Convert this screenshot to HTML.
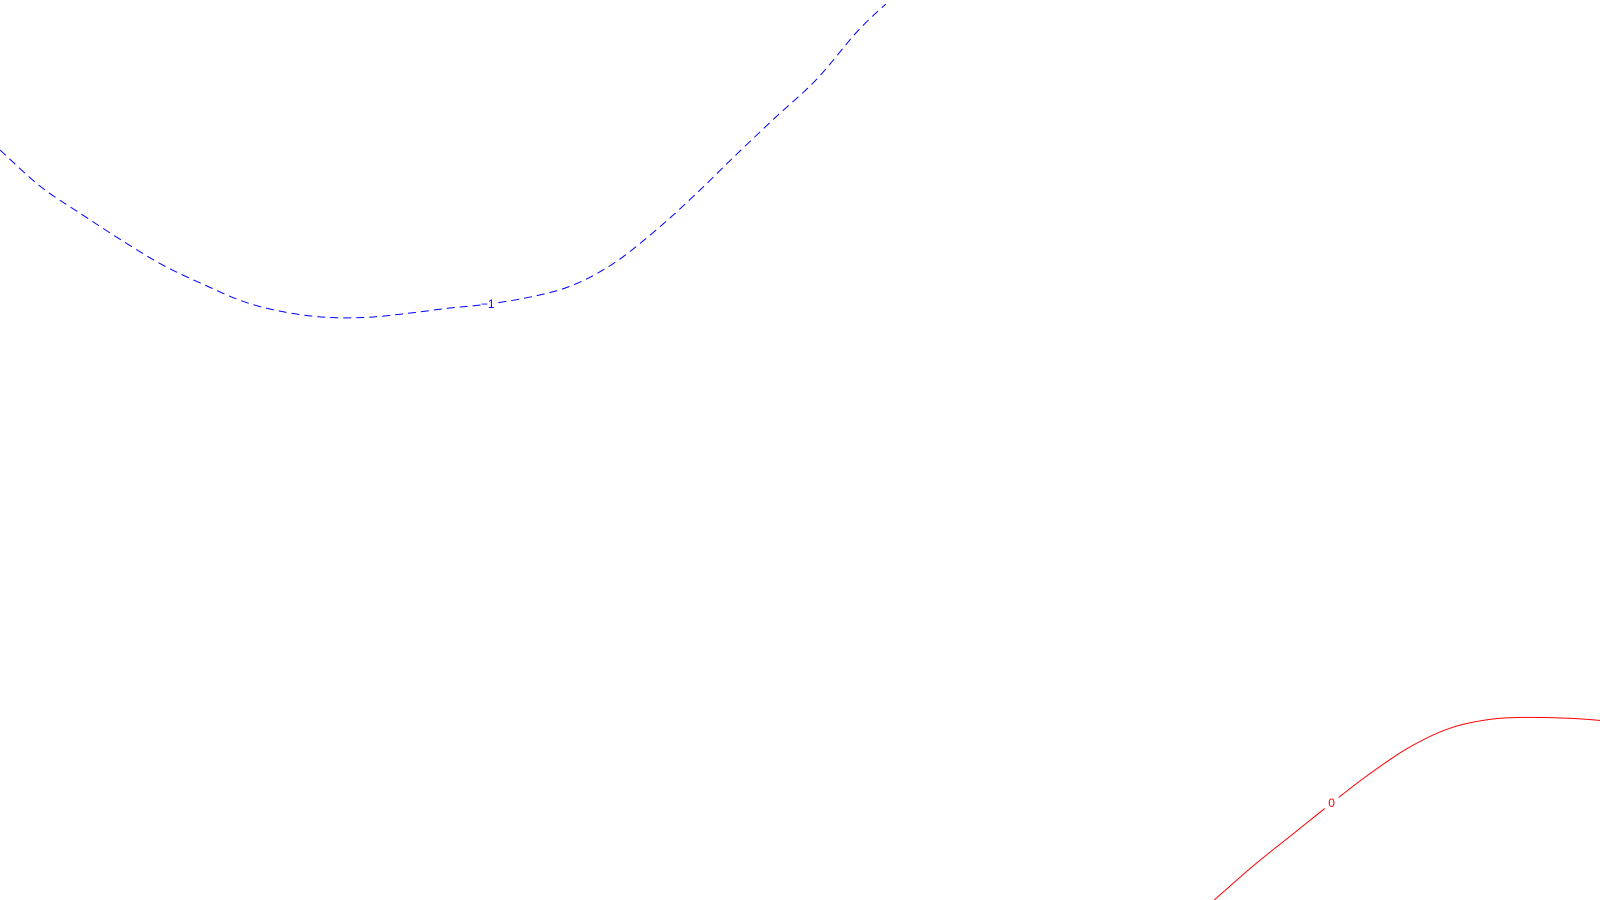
<!DOCTYPE html>
<html><head><meta charset="utf-8"><style>
html,body{margin:0;padding:0;background:#fff;width:1600px;height:900px;overflow:hidden}
svg{display:block}
</style></head><body>
<svg id="chart" width="1600" height="900" xmlns="http://www.w3.org/2000/svg">
<rect width="1600" height="900" fill="#fff"/>
<g id="plot"></g>
</svg>
<script>
// contour levels and their traced paths (data coords: x 0..1568, y 0..882 top-down)
const levels = [-1, 0];
const levelColors = ["#0000ff", "#ff0000"];
const contourNeg1X = [0,40,80,120,160,200,240,280,320,360,400,440,478,520,560,600,640,680,720,760,800,840,868];
const contourNeg1Y = [147,183,210,236,260,279,296,306,311,311,307,302,298,291,280,259,228,192,153,115,78,31,4];
const contour0X = [1190,1230,1270,1305,1340,1380,1420,1460,1500,1540,1568];
const contour0Y = [882,847,815,787,760,733,714,705,703,704,706];
const labelPos = [[478,298],[1305,787]];

const xScale = v => v * 1600 / 1568;
const yScale = v => v * 900 / 882;
const plot = document.getElementById('plot');
const NS = 'http://www.w3.org/2000/svg';
const series = [[contourNeg1X, contourNeg1Y],[contour0X, contour0Y]];
function smooth(xs, ys) {
  const P = xs.map((x, j) => [xScale(x), yScale(ys[j])]);
  let d = 'M' + P[0][0] + ',' + P[0][1];
  for (let j = 0; j < P.length - 1; j++) {
    const p0 = P[Math.max(0, j - 1)], p1 = P[j], p2 = P[j + 1], p3 = P[Math.min(P.length - 1, j + 2)];
    const c1x = p1[0] + (p2[0] - p0[0]) / 6, c1y = p1[1] + (p2[1] - p0[1]) / 6;
    const c2x = p2[0] - (p3[0] - p1[0]) / 6, c2y = p2[1] - (p3[1] - p1[1]) / 6;
    d += 'C' + c1x + ',' + c1y + ' ' + c2x + ',' + c2y + ' ' + p2[0] + ',' + p2[1];
  }
  return d;
}
series.forEach((s, i) => {
  const p = document.createElementNS(NS, 'path');
  p.setAttribute('d', smooth(s[0], s[1]));
  p.setAttribute('fill', 'none');
  p.setAttribute('stroke', levelColors[i]);
  p.setAttribute('stroke-width', '1');
  if (levels[i] < 0) p.setAttribute('stroke-dasharray', '8,5');
  
  
  plot.appendChild(p);
  const bg = document.createElementNS(NS, 'rect');
  bg.setAttribute('x', xScale(labelPos[i][0]) - 7);
  bg.setAttribute('y', yScale(labelPos[i][1]) - 6);
  bg.setAttribute('width', 14);
  bg.setAttribute('height', 12);
  bg.setAttribute('fill', '#fff');
  
  
  plot.appendChild(bg);
  const t = document.createElementNS(NS, 'text');
  t.setAttribute('x', xScale(labelPos[i][0]));
  t.setAttribute('y', yScale(labelPos[i][1]) + 4);
  t.setAttribute('text-anchor', 'middle');
  t.setAttribute('font-family', 'Liberation Sans, sans-serif');
  t.setAttribute('font-size', '12');
  t.setAttribute('fill', levelColors[i]);
  t.textContent = levels[i] < 0 ? '\u2212' + Math.abs(levels[i]) : String(levels[i]);
  
  
  plot.appendChild(t);
});
</script>
</body></html>
